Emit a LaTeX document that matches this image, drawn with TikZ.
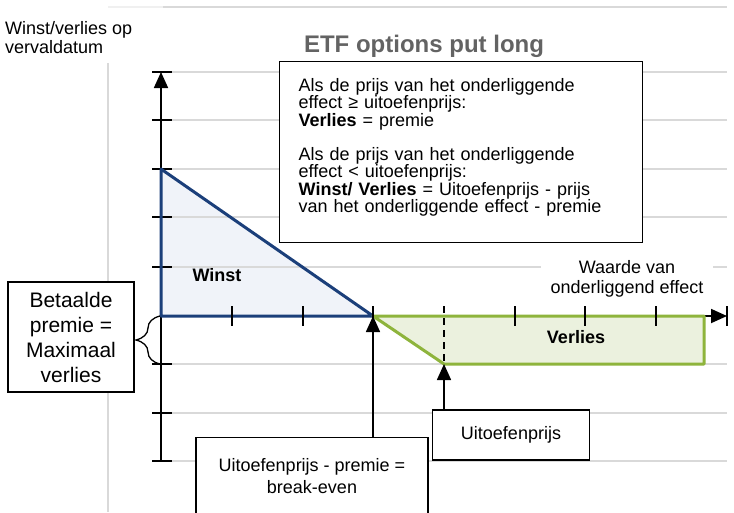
\documentclass[tikz,border=0pt]{standalone}
\usepackage{fontspec}
\setmainfont{Liberation Sans}
\usetikzlibrary{arrows.meta,decorations.pathreplacing}
\definecolor{winstblauw}{HTML}{1B3F7A}
\definecolor{winstvlak}{HTML}{F0F3F9}
\definecolor{verliesgroen}{HTML}{8EB43C}
\definecolor{verliesvlak}{HTML}{EBF1DE}
\definecolor{rooster}{HTML}{D9D9D9}
\definecolor{titelgrijs}{HTML}{636363}

\begin{document}
\begin{tikzpicture}[x=1pt,y=-1pt,
  >={Triangle[length=16pt,width=14pt]},
  roosterlijn/.style={draw=rooster,line width=1.6pt},
  as/.style={draw=black,line width=1.8pt},
  kader/.style={draw=black,line width=1.3pt,fill=white,inner sep=0pt,font=\fontsize{18}{22}\selectfont},
  tekst/.style={inner sep=0pt,font=\fontsize{18}{20}\selectfont},
  vet/.style={inner sep=0pt,font=\bfseries\fontsize{18}{20}\selectfont}]
\useasboundingbox (0,0) rectangle (734,512);
\clip (0,0) rectangle (734,512);

% vlakken
\fill[winstvlak] (161,169) -- (161,316) -- (373,316) -- cycle;
\fill[verliesvlak] (373,316) -- (444,364) -- (704,364) -- (704,316) -- cycle;

% raster
\draw[roosterlijn,draw=rooster!40] (108,7) -- (163,7);
\draw[roosterlijn] (163,7) -- (727,7);
\draw[roosterlijn] (108,63) -- (108,512);
\foreach \y in {72,120,169,217,267,364,413,461}
  \draw[roosterlijn] (161,\y) -- (727,\y);

\node[tekst,fill=white,inner xsep=10pt,inner ysep=2pt,align=center] (waarde) at (627,278.5) {Waarde van\\onderliggend effect};
\node[tekst,anchor=west,align=left,font=\fontsize{18}{19}\selectfont] (asy) at (5,38) {Winst/verlies op\\vervaldatum};
\node[font=\bfseries\fontsize{24}{28}\selectfont,text=titelgrijs,anchor=base] (titel) at (424,52) {ETF options put long};

% assen
\draw[as,->] (161,461) -- (161,72);
\draw[as,->] (161,316) -- (727,316);
\foreach \y in {72,120,169,217,267,364,413,461}
  \draw[as] (152,\y) -- (172,\y);

\draw[winstblauw,line width=3pt,line join=round] (161,169) -- (161,316) -- (373,316) -- cycle;
\draw[verliesgroen,line width=3pt,line join=round] (373,316) -- (444,364) -- (704,364) -- (704,316) -- cycle;

\foreach \x in {232,303,373,515,585,656,727}
  \draw[as] (\x,306) -- (\x,326);
\draw[as,dash pattern=on 7pt off 5pt] (444,306) -- (444,364);

\node[vet] (winst) at (217,275.5) {Winst};
\node[vet] (verlies) at (576,337.5) {Verlies};

\node[kader,anchor=north west,text width=325pt,inner xsep=19pt,inner ysep=17pt,align=left,font=\fontsize{18}{17.3}\selectfont] (info) at (279,61)
  {Als de prijs van het onderliggende\\effect ≥ uitoefenprijs:\\\textbf{Verlies} = premie\\[17pt]Als de prijs van het onderliggende\\effect < uitoefenprijs:\\\textbf{Winst/ Verlies} = Uitoefenprijs - prijs\\van het onderliggende effect - premie\rule[-13pt]{0pt}{13pt}};

\node[kader,minimum width=157pt,minimum height=50pt] (uitoef) at (511,435) {Uitoefenprijs};
\node[kader,minimum width=232pt,minimum height=77pt,align=center,anchor=north] (breakeven) at (312,437) {Uitoefenprijs - premie =\\break-even};
\node[kader,minimum width=126pt,minimum height=110pt,align=center,font=\fontsize{21}{25}\selectfont] (betaald) at (71,337) {Betaalde\\premie =\\Maximaal\\verlies};

\coordinate (be) at (373,316);
\coordinate (strike) at (444,364);
\draw[line width=1.6pt,->] (breakeven.north -| be) -- (be);
\draw[line width=1.6pt,->] (uitoef.north -| strike) -- (strike);

\draw[line width=1.3pt,decorate,decoration={brace,amplitude=24pt}] (160,364) -- (160,316);
\end{tikzpicture}
\end{document}
